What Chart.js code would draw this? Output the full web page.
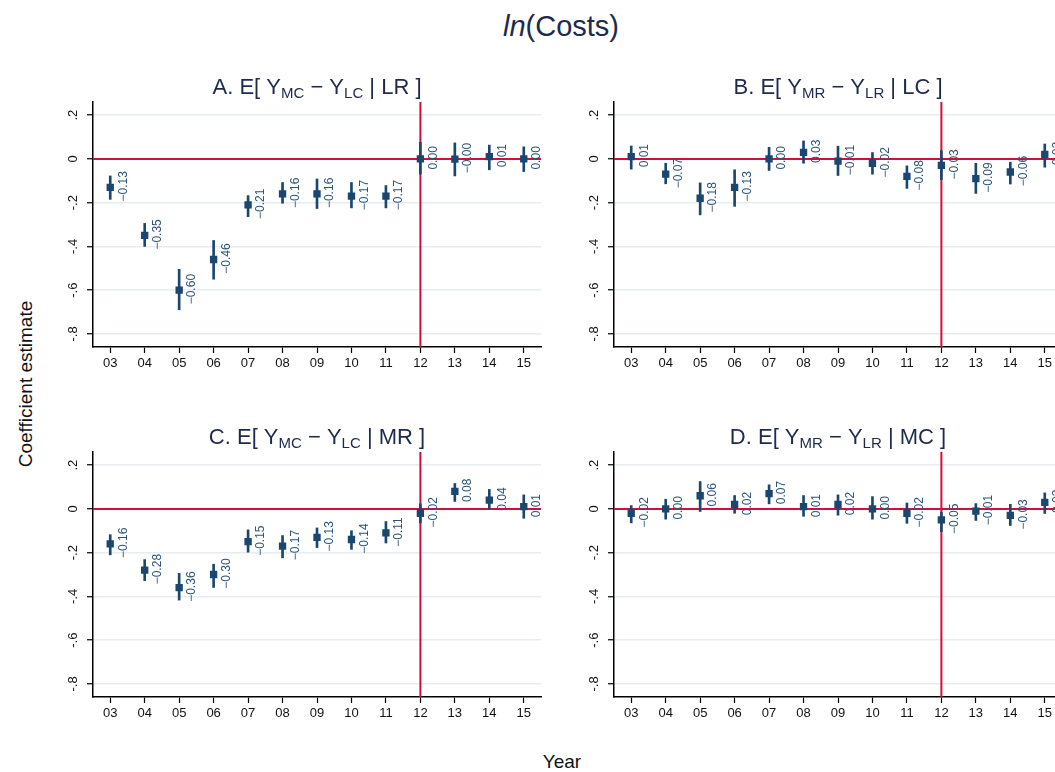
<!DOCTYPE html>
<html>
<head>
<meta charset="utf-8">
<script src="https://cdn.jsdelivr.net/npm/chart.js@4"></script>
<style>
  html, body { margin: 0; padding: 0; background: #fff; }
  body { width: 1055px; height: 772px; overflow: hidden; position: relative;
         font-family: "Liberation Sans", Arial, sans-serif; }
  canvas { position: absolute; }
  .txt { position: absolute; white-space: nowrap; line-height: 1; }
</style>
</head>
<body>
<div class="txt" style="left:411px; width:300px; top:12px; text-align:center; font-size:29px; color:#1d2a4e;"><i>ln</i>(Costs)</div>
<div class="txt" style="left:25px; top:384px; font-size:19px; color:#111; transform:translate(-50%,-50%) rotate(-90deg);">Coefficient estimate</div>
<div class="txt" style="left:462px; width:200px; top:752px; text-align:center; font-size:19px; color:#111;">Year</div>

<canvas id="panelA" width="520" height="311" style="left:40px; top:70px;"></canvas>
<canvas id="panelB" width="520" height="311" style="left:561px; top:70px;"></canvas>
<canvas id="panelC" width="520" height="311" style="left:40px; top:420px;"></canvas>
<canvas id="panelD" width="520" height="311" style="left:561px; top:420px;"></canvas>

<script>
// years on the x axis, reference year gets the vertical line
const years = ['03', '04', '05', '06', '07', '08', '09', '10', '11', '12', '13', '14', '15'];
const refYear = '12';

// y axis ticks
const yTicks = [0.2, 0, -0.2, -0.4, -0.6, -0.8];
const yTickLabels = ['.2', '0', '-.2', '-.4', '-.6', '-.8'];

// panel titles: plain text and subscripts alternate
const titleA = ['A. E[ Y', 'MC', ' \u2212 Y', 'LC', ' | LR ]'];
const titleB = ['B. E[ Y', 'MR', ' \u2212 Y', 'LR', ' | LC ]'];
const titleC = ['C. E[ Y', 'MC', ' \u2212 Y', 'LC', ' | MR ]'];
const titleD = ['D. E[ Y', 'MR', ' \u2212 Y', 'LR', ' | MC ]'];

// coefficient estimates and 95% CI bounds
const estA = [-0.13, -0.35, -0.60, -0.46, -0.21, -0.16, -0.16, -0.17, -0.17, 0.00, -0.001, 0.01, 0.00];
const loA  = [-0.185, -0.40, -0.69, -0.55, -0.264, -0.203, -0.227, -0.224, -0.224, -0.069, -0.078, -0.05, -0.058];
const hiA  = [-0.078, -0.295, -0.505, -0.373, -0.168, -0.108, -0.092, -0.108, -0.122, 0.076, 0.073, 0.063, 0.055];

const estB = [0.01, -0.07, -0.18, -0.13, 0.00, 0.03, -0.01, -0.02, -0.08, -0.03, -0.09, -0.06, 0.02];
const loB  = [-0.047, -0.114, -0.256, -0.217, -0.053, -0.02, -0.076, -0.07, -0.135, -0.095, -0.158, -0.115, -0.038];
const hiB  = [0.059, -0.02, -0.11, -0.05, 0.053, 0.082, 0.058, 0.029, -0.032, 0.038, -0.02, -0.015, 0.068];

const estC = [-0.16, -0.28, -0.36, -0.30, -0.15, -0.17, -0.13, -0.14, -0.11, -0.02, 0.08, 0.04, 0.01];
const loC  = [-0.21, -0.328, -0.417, -0.359, -0.198, -0.224, -0.177, -0.185, -0.156, -0.064, 0.034, -0.002, -0.043];
const hiC  = [-0.118, -0.232, -0.295, -0.253, -0.096, -0.122, -0.087, -0.10, -0.058, 0.023, 0.116, 0.089, 0.064];

const estD = [-0.02, 0.00, 0.06, 0.02, 0.07, 0.01, 0.02, 0.00, -0.02, -0.05, -0.01, -0.03, 0.03];
const loD  = [-0.064, -0.047, -0.012, -0.02, 0.023, -0.034, -0.029, -0.047, -0.066, -0.104, -0.053, -0.076, -0.021];
const hiD  = [0.015, 0.044, 0.125, 0.061, 0.11, 0.061, 0.064, 0.056, 0.027, -0.015, 0.024, 0.021, 0.073];

const navy = '#1a476f';
const labelColor = '#2c5479';
const red = '#d0103a';
const fontFamily = '"Liberation Sans", Arial, sans-serif';

// red reference lines at zero and at the reference year, under the markers
const refLines = {
  id: 'refLines',
  beforeDatasetsDraw(chart) {
    const { ctx, chartArea: a, scales: { x, y } } = chart;
    const y0 = y.getPixelForValue(0);
    const x0 = x.getPixelForValue(years.indexOf(refYear));
    ctx.save();
    ctx.strokeStyle = red;
    ctx.lineWidth = 2;
    ctx.beginPath();
    ctx.moveTo(a.left, y0); ctx.lineTo(a.right, y0);
    ctx.moveTo(x0, a.top); ctx.lineTo(x0, a.bottom);
    ctx.stroke();
    ctx.restore();
  }
};

// vertical value labels next to each marker, rotated y tick labels, panel title
const panelText = {
  id: 'panelText',
  afterDatasetsDraw(chart) {
    const { ctx } = chart;
    const meta = chart.getDatasetMeta(1);
    const vals = chart.data.datasets[1].data;
    ctx.save();
    ctx.fillStyle = labelColor;
    ctx.font = '12px ' + fontFamily;
    ctx.textAlign = 'center';
    ctx.textBaseline = 'middle';
    meta.data.forEach((pt, i) => {
      const txt = vals[i].toFixed(2).replace('-', '\u2212');
      ctx.save();
      ctx.translate(pt.x + 13, pt.y - 1);
      ctx.rotate(-Math.PI / 2);
      ctx.fillText(txt, 0, 0);
      ctx.restore();
    });
    ctx.restore();
  },
  afterDraw(chart) {
    const { ctx, chartArea: a, scales: { y } } = chart;
    ctx.save();
    ctx.fillStyle = '#111';
    ctx.font = '13px ' + fontFamily;
    ctx.textAlign = 'center';
    ctx.textBaseline = 'middle';
    yTicks.forEach((v, i) => {
      ctx.save();
      ctx.translate(a.left - 20, y.getPixelForValue(v));
      ctx.rotate(-Math.PI / 2);
      ctx.fillText(yTickLabels[i], 0, 0);
      ctx.restore();
    });

    // title with subscripts, centred over the plot area
    const parts = chart.options.plugins.panelText.title;
    const big = '22px ' + fontFamily, small = '15px ' + fontFamily;
    let width = 0;
    parts.forEach((p, i) => { ctx.font = i % 2 ? small : big; width += ctx.measureText(p).width; });
    let xPos = (a.left + a.right) / 2 - width / 2;
    const base = a.top - 8;
    ctx.fillStyle = '#1d2a4e';
    ctx.textAlign = 'left';
    ctx.textBaseline = 'alphabetic';
    parts.forEach((p, i) => {
      ctx.font = i % 2 ? small : big;
      ctx.fillText(p, xPos, i % 2 ? base + 4 : base);
      xPos += ctx.measureText(p).width;
    });
    ctx.restore();
  }
};

const makePanel = (id, title, est, lo, hi) => {
  new Chart(document.getElementById(id), {
    data: {
      labels: years,
      datasets: [
        {
          type: 'bar',
          data: lo.map((l, i) => [l, hi[i]]),
          backgroundColor: navy,
          borderWidth: 0,
          barThickness: 2,
          order: 2
        },
        {
          type: 'line',
          data: est,
          showLine: false,
          pointStyle: 'rect',
          pointRadius: 5.2,
          pointHoverRadius: 5.2,
          pointBackgroundColor: navy,
          pointBorderWidth: 0,
          order: 1
        }
      ]
    },
    options: {
      responsive: false,
      animation: false,
      devicePixelRatio: 1,
      events: [],
      layout: { padding: { top: 32, right: 19, bottom: 0, left: 0 } },
      plugins: {
        legend: { display: false },
        tooltip: { enabled: false },
        panelText: { title: title }
      },
      scales: {
        x: {
          type: 'category',
          offset: true,
          afterFit: s => { s.height = 34; },
          grid: { drawOnChartArea: false, drawTicks: true, tickLength: 6, tickColor: '#000', tickWidth: 1.2, offset: false },
          border: { color: '#000', width: 1.5 },
          ticks: { color: '#111', font: { family: fontFamily, size: 13 }, padding: 3, maxRotation: 0, autoSkip: false }
        },
        y: {
          min: -0.86,
          max: 0.26,
          afterBuildTicks: s => { s.ticks = yTicks.map(v => ({ value: v })); },
          afterFit: s => { s.width = 53; },
          grid: { color: '#e6edf1', lineWidth: 1.5, drawTicks: true, tickLength: 6, tickColor: '#000', tickWidth: 1.2 },
          border: { color: '#000', width: 1.5 },
          ticks: { display: false }
        }
      }
    },
    plugins: [refLines, panelText]
  });
};

makePanel('panelA', titleA, estA, loA, hiA);
makePanel('panelB', titleB, estB, loB, hiB);
makePanel('panelC', titleC, estC, loC, hiC);
makePanel('panelD', titleD, estD, loD, hiD);
</script>
</body>
</html>
